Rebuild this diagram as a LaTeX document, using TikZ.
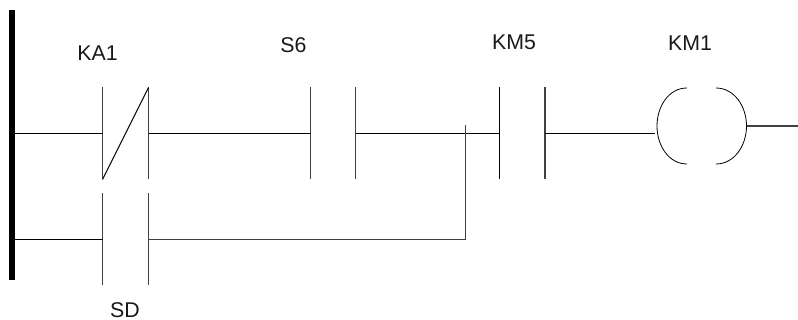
\documentclass[tikz,border=0pt]{standalone}
\usepackage{fontspec}
\setmainfont{Liberation Sans}
\tikzset{
  wire/.style={draw=black,line width=0.8pt},
  plate/.style={draw=black!75,line width=0.75pt},
  railbar/.style={draw=black,line width=4.2pt},
  tag/.style={inner sep=0pt,font=\fontsize{16}{18}\selectfont,text=black!90},
}
\begin{document}
\begin{tikzpicture}[x=0.75pt,y=-0.75pt]
\useasboundingbox (0,0) rectangle (798,320);
% power rail
\coordinate (railT) at (12.2,10);
\coordinate (railB) at (12.2,279.5);
\draw[railbar] (railT) -- (railB);
\coordinate (r1) at (12.2,133.5);
\coordinate (r2) at (12.2,239.5);
% KA1
\coordinate (kaLt) at (102.5,87.5);
\coordinate (kaLb) at (102.5,179.5);
\coordinate (kaRt) at (148.5,87.5);
\coordinate (kaRb) at (148.5,179.5);
\coordinate (kaL) at (102.5,133.5);
\coordinate (kaR) at (148.5,133.5);
\draw[plate] (kaLt) -- (kaLb);
\draw[plate] (kaRt) -- (kaRb);
\draw[wire,line width=0.7pt] (kaLb) -- (kaRt);
% S6
\coordinate (s6Lt) at (310.5,87.5);
\coordinate (s6Lb) at (310.5,179.5);
\coordinate (s6Rt) at (355.5,87.5);
\coordinate (s6Rb) at (355.5,179.5);
\coordinate (s6L) at (310.5,133.5);
\coordinate (s6R) at (355.5,133.5);
\draw[plate] (s6Lt) -- (s6Lb);
\draw[plate] (s6Rt) -- (s6Rb);
% KM5
\coordinate (kmLt) at (499.5,87.5);
\coordinate (kmLb) at (499.5,179.5);
\coordinate (kmRt) at (545,87.5);
\coordinate (kmRb) at (545,179.5);
\coordinate (kmL) at (499.5,133.5);
\coordinate (kmR) at (545,133.5);
\draw[plate,draw=black] (kmLt) -- (kmLb);
\draw[plate,line width=1.1pt] (kmRt) -- (kmRb);
% SD
\coordinate (sdLt) at (102.5,193);
\coordinate (sdLb) at (102.5,284.5);
\coordinate (sdRt) at (148.5,193);
\coordinate (sdRb) at (148.5,284.5);
\coordinate (sdL) at (102.5,239.5);
\coordinate (sdR) at (148.5,239.5);
\draw[plate] (sdLt) -- (sdLb);
\draw[plate] (sdRt) -- (sdRb);
% branch
\coordinate (jT) at (465.5,125);
\coordinate (jB) at (465.5,239.5);
% coil
\coordinate (coilIn) at (655,133.5);
\coordinate (coilOut) at (747,126);
\coordinate (wireEnd) at (798,126);
\draw[wire,line width=0.6pt] (687,88) .. controls (669,88) and (657,106) .. (657,126) .. controls (657,146) and (669,164) .. (687,164);
\draw[wire,line width=0.6pt] (716,88) .. controls (734,88) and (746.5,106) .. (746.5,126) .. controls (746.5,146) and (734,164) .. (716,164);
% wires
\draw[wire] (r1) -- (kaL);
\draw[wire] (kaR) -- (s6L);
\draw[wire] (s6R) -- (kmL);
\draw[wire] (kmR) -- (coilIn);
\draw[wire,draw=black!75] (coilOut) -- (wireEnd);
\draw[wire] (r2) -- (sdL);
\draw[wire,draw=black!75] (sdR) -- (jB) -- (jT);
% labels
\node[tag] (lKA) at (97.5,53) {KA1};
\node[tag] (lS6) at (293.5,44.7) {S6};
\node[tag] (lKM5) at (514,42.5) {KM5};
\node[tag] (lKM1) at (690,43.5) {KM1};
\node[tag] (lSD) at (125,310.5) {SD};
\end{tikzpicture}
\end{document}
